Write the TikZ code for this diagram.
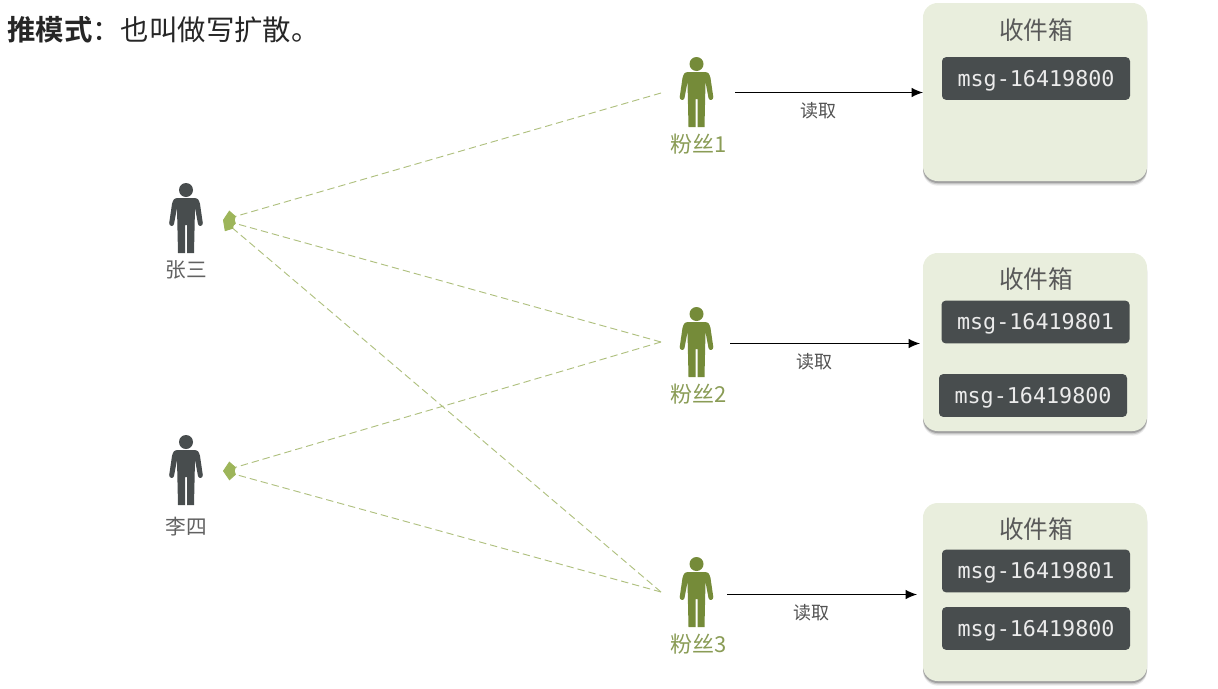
\documentclass[tikz,border=0pt]{standalone}
\usepackage{fontspec}
\setmainfont{Noto Sans CJK SC}[BoldFont={Noto Sans CJK SC Bold}]
\newfontfamily\msgfont{DejaVu Sans Mono}
\usetikzlibrary{arrows.meta,shadows}
\definecolor{fanc}{HTML}{758B39}
\definecolor{fantxt}{HTML}{8A9C56}
\definecolor{darkc}{HTML}{484D4E}
\definecolor{inboxc}{HTML}{E9EEDD}
\definecolor{dashc}{HTML}{AFC07F}
\definecolor{tipc}{HTML}{9DB55A}
\begin{document}
\begin{tikzpicture}[
  x=0.75pt, y=-0.75pt,
  person/.pic={
    \path[pic actions] (0,0) circle [radius=7];
    \path[pic actions] (-8,8) -- (8,8) .. controls (12,8) and (13,10) .. (14,14)
      -- (16.8,33) .. controls (17,36.5) and (12.5,37) .. (12,34) -- (9,18)
      -- (8,63) -- (1,63) -- (1,35) -- (-1,35) -- (-1,63) -- (-8,63) -- (-9,18)
      -- (-12,34) .. controls (-12.5,37) and (-17,36.5) .. (-16.8,33)
      -- (-14,14) .. controls (-13,10) and (-12,8) .. (-8,8) -- cycle;
  },
  inbox/.style={fill=inboxc, rounded corners=11pt, minimum width=168pt,
                minimum height=133.5pt, inner sep=0pt, outer sep=0pt,
                drop shadow={shadow xshift=0pt, shadow yshift=-3.5pt,
                             fill=black, opacity=0.08},
                drop shadow={shadow xshift=0pt, shadow yshift=-2.5pt,
                             fill=black, opacity=0.14},
                drop shadow={shadow xshift=0pt, shadow yshift=-1.5pt,
                             fill=black, opacity=0.2}},
  msg/.style={fill=darkc, rounded corners=3pt, minimum width=141pt,
              minimum height=32pt, inner sep=0pt, text=white!92!black,
              text height=13pt, text depth=1.4pt,
              font=\msgfont\fontsize{16.3pt}{18pt}\selectfont},
  title/.style={text=black!65, font=\fontsize{18.5pt}{20pt}\selectfont},
  fanlbl/.style={text=fantxt, font=\fontsize{16.5pt}{18pt}\selectfont},
  uname/.style={text=black!62, font=\fontsize{15.5pt}{18pt}\selectfont},
  rdlbl/.style={text=black!68, font=\fontsize{13.5pt}{16pt}\selectfont},
  push/.style={-{Kite[length=10pt, width=11pt, inset=3.5pt, color=tipc, fill=tipc]},
               dashc, line width=0.7pt, dash pattern=on 5.5pt off 3pt},
  read/.style={-{Latex[length=8.5pt, width=7pt]}, black, line width=0.7pt},
]
\useasboundingbox (0,0) rectangle (1218,689);
% Heading
\node[anchor=west, inner sep=0pt, text=black!85, font=\fontsize{21.3pt}{23pt}\selectfont]
  (head) at (7,30) {\textbf{推模式}：也叫做写扩散。};
% Users
\pic[fill=darkc] at (186,190) {person};
\pic[fill=darkc] at (186,442) {person};
\node[uname] (zhang) at (186,270) {张三};
\node[uname] (lisi) at (186,527) {李四};
\coordinate (zhangin) at (223,220);
\coordinate (lisiin) at (223,471);
% Fans
\foreach \n/\y in {1/64,2/314,3/564}
  \pic[fill=fanc] at (696.5,\y) {person};
\foreach \n/\y in {1/144,2/394,3/644}
  \node[fanlbl] (fan\n) at (699,\y) {粉丝\n};
\coordinate (out1) at (661,93);
\coordinate (out2) at (661,342);
\coordinate (out3) at (661,592);
% Inboxes
\node[inbox] (inbox1) at (1035,92) {};
\node[inbox] (inbox2) at (1035,342) {};
\node[inbox] (inbox3) at (1035,592) {};
\foreach \n/\y in {1/30,2/279,3/529}
  \node[title] (title\n) at (1036,\y) {收件箱};
\node[msg] (m10) at (1036,78.5) {msg-16419800};
\node[msg] (m21) at (1035.5,322) {msg-16419801};
\node[msg] (m20) at (1033,395.5) {msg-16419800};
\node[msg] (m31) at (1036,571) {msg-16419801};
\node[msg] (m30) at (1036,628.5) {msg-16419800};
% Push lines
\draw[push] (out1) -- (zhangin);
\draw[push] (out2) -- (zhangin);
\draw[push] (out3) -- (zhangin);
\draw[push] (out2) -- (lisiin);
\draw[push] (out3) -- (lisiin);
% Read arrows
\coordinate (rd1) at (735,92.5);
\coordinate (rd2) at (730,343.5);
\coordinate (rd3) at (727,594.5);
\draw[read] (rd1) -- (rd1 -| inbox1.west);
\draw[read] (rd2) -- ([xshift=-2.25pt]rd2 -| inbox2.west);
\draw[read] (rd3) -- ([xshift=-4.5pt]rd3 -| inbox3.west);
\node[rdlbl] (rdl1) at (818,111) {读取};
\node[rdlbl] (rdl2) at (814.5,362) {读取};
\node[rdlbl] (rdl3) at (811.5,613) {读取};
\end{tikzpicture}
\end{document}
